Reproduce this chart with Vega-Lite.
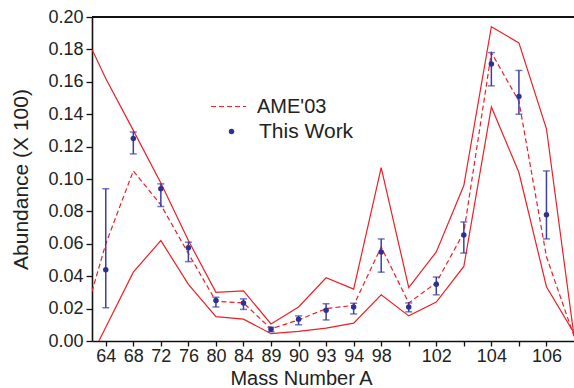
{
  "$schema": "https://vega.github.io/schema/vega-lite/v6.json",
  "width": 482,
  "height": 324,
  "autosize": "none",
  "padding": {"left": 92, "top": 17, "right": 0, "bottom": 47},
  "background": "white",
  "config": {
    "view": {"stroke": null},
    "font": "Liberation Sans",
    "axis": {"labelOverlap": false, "labelBound": false, "labelFlush": false, "grid": false},
    "axisY": {
      "values": [0,0.01,0.02,0.03,0.04,0.05,0.06,0.07,0.08,0.09,0.1,0.11,0.12,0.13,0.14,0.15,0.16,0.17,0.18,0.19,0.2],
      "labelExpr": "round(datum.value*100) % 2 == 0 ? format(datum.value, '.2f') : ''",
      "tickSize": {"condition": {"test": "round(datum.value*100) % 2 == 0", "value": 6}, "value": 3}
    }
  },
  "data": {
    "values": [
      {"i": -0.5, "up": 0.18, "lo": -0.0085, "ame": 0.0305},
      {"i": 0, "up": 0.162, "lo": 0.0085, "ame": 0.060, "v": 0.044, "vlo": 0.0205, "vhi": 0.094},
      {"i": 1, "up": 0.130, "lo": 0.0425, "ame": 0.105, "v": 0.125, "vlo": 0.1155, "vhi": 0.129},
      {"i": 2, "up": 0.0975, "lo": 0.062, "ame": 0.084, "v": 0.094, "vlo": 0.083, "vhi": 0.097},
      {"i": 3, "up": 0.062, "lo": 0.035, "ame": 0.054, "v": 0.0575, "vlo": 0.049, "vhi": 0.061},
      {"i": 4, "up": 0.030, "lo": 0.015, "ame": 0.0245, "v": 0.025, "vlo": 0.021, "vhi": 0.027},
      {"i": 5, "up": 0.031, "lo": 0.0135, "ame": 0.0235, "v": 0.0235, "vlo": 0.0195, "vhi": 0.026},
      {"i": 6, "up": 0.0105, "lo": 0.0045, "ame": 0.0075, "v": 0.0072, "vlo": 0.0057, "vhi": 0.0085},
      {"i": 7, "up": 0.021, "lo": 0.006, "ame": 0.013, "v": 0.0135, "vlo": 0.010, "vhi": 0.0155},
      {"i": 8, "up": 0.039, "lo": 0.008, "ame": 0.020, "v": 0.019, "vlo": 0.013, "vhi": 0.023},
      {"i": 9, "up": 0.032, "lo": 0.011, "ame": 0.022, "v": 0.021, "vlo": 0.0167, "vhi": 0.0233},
      {"i": 10, "up": 0.107, "lo": 0.0285, "ame": 0.058, "v": 0.055, "vlo": 0.0425, "vhi": 0.063},
      {"i": 11, "up": 0.033, "lo": 0.0155, "ame": 0.0235, "v": 0.021, "vlo": 0.018, "vhi": 0.0235},
      {"i": 12, "up": 0.055, "lo": 0.024, "ame": 0.036, "v": 0.035, "vlo": 0.0285, "vhi": 0.0395},
      {"i": 13, "up": 0.096, "lo": 0.046, "ame": 0.067, "v": 0.0655, "vlo": 0.0543, "vhi": 0.0735},
      {"i": 14, "up": 0.194, "lo": 0.1445, "ame": 0.178, "v": 0.171, "vlo": 0.1575, "vhi": 0.178},
      {"i": 15, "up": 0.184, "lo": 0.104, "ame": 0.148, "v": 0.151, "vlo": 0.140, "vhi": 0.167},
      {"i": 16, "up": 0.131, "lo": 0.0335, "ame": 0.052, "v": 0.078, "vlo": 0.063, "vhi": 0.105},
      {"i": 17, "up": 0.003, "lo": 0.005, "ame": 0.003}
    ]
  },
  "encoding": {
    "x": {
      "field": "i",
      "type": "quantitative",
      "scale": {"domain": [-0.5, 17], "nice": false, "zero": false},
      "axis": {
        "title": "Mass Number A",
        "titleFontSize": 20,
        "titleFontWeight": "normal",
        "titleColor": "#222",
        "titleX": 209,
        "titleY": 43,
        "titleAlign": "center",
        "titleBaseline": "alphabetic",
        "values": [0,1,2,3,4,5,6,7,8,9,10,11,12,13,14,15,16],
        "labelExpr": "['64','68','72','76','80','84','89','90','93','94','98','','102','','104','','106'][datum.value]",
        "labelFontSize": 18,
        "labelColor": "#222",
        "labelPadding": 1,
        "tickSize": 5,
        "tickColor": "#111",
        "tickWidth": 1.3,
        "domainColor": "#111",
        "domainWidth": 1.6
      }
    }
  },
  "layer": [
    {
      "mark": {"type": "line", "color": "#ee1f26", "strokeWidth": 1.2, "clip": true},
      "encoding": {
        "y": {
          "field": "up",
          "type": "quantitative",
          "scale": {"domain": [0, 0.2], "nice": false},
          "axis": {
            "title": "Abundance (X 100)",
            "titleFontSize": 21,
            "titleFontWeight": "normal",
            "titleColor": "#222",
            "titlePadding": 16,
            "labelFontSize": 18,
            "labelColor": "#222",
            "labelPadding": 3,
            "tickColor": "#111",
            "tickWidth": 1.3,
            "domainColor": "#111",
            "domainWidth": 1.6
          }
        }
      }
    },
    {
      "mark": {"type": "line", "color": "#ee1f26", "strokeWidth": 1.2, "clip": true},
      "encoding": {"y": {"field": "lo", "type": "quantitative"}}
    },
    {
      "mark": {"type": "line", "color": "#ee1f26", "strokeWidth": 1.2, "clip": true},
      "encoding": {
        "y": {"field": "ame", "type": "quantitative"},
        "strokeDash": {
          "datum": "AME'03",
          "scale": {"range": [[5, 3]]},
          "legend": {
            "title": null,
            "orient": "none",
            "legendX": 118,
            "legendY": 71,
            "padding": 0,
            "symbolType": "stroke",
            "symbolSize": 1225,
            "symbolStrokeColor": "#ee1f26",
            "symbolStrokeWidth": 1.2,
            "labelFontSize": 20,
            "labelColor": "#222",
            "labelOffset": 10,
            "encode": {"symbols": {"update": {"stroke": {"value": "#ee1f26"}}}}
          }
        }
      }
    },
    {
      "mark": {"type": "rule", "color": "#111", "strokeWidth": 2},
      "encoding": {"y": {"datum": 0.2}, "x": {"datum": -0.5}, "x2": {"datum": 17}}
    },
    {
      "transform": [{"filter": "isValid(datum.v)"}],
      "mark": {"type": "rule", "color": "#3b3fa5", "strokeWidth": 1.5},
      "encoding": {"y": {"field": "vlo", "type": "quantitative"}, "y2": {"field": "vhi"}}
    },
    {
      "transform": [{"filter": "isValid(datum.v)"}],
      "mark": {"type": "tick", "orient": "horizontal", "color": "#3b3fa5", "size": 7, "thickness": 1.5},
      "encoding": {"y": {"field": "vlo", "type": "quantitative"}}
    },
    {
      "transform": [{"filter": "isValid(datum.v)"}],
      "mark": {"type": "tick", "orient": "horizontal", "color": "#3b3fa5", "size": 7, "thickness": 1.5},
      "encoding": {"y": {"field": "vhi", "type": "quantitative"}}
    },
    {
      "transform": [{"filter": "isValid(datum.v)"}],
      "mark": {"type": "point", "filled": true, "size": 30, "opacity": 1},
      "encoding": {
        "y": {"field": "v", "type": "quantitative"},
        "color": {
          "datum": "This Work",
          "scale": {"range": ["#2e3192"]},
          "legend": {
            "title": null,
            "orient": "none",
            "legendX": 129,
            "legendY": 104,
            "padding": 0,
            "symbolType": "circle",
            "symbolSize": 30,
            "symbolOpacity": 1,
            "labelFontSize": 21,
            "labelColor": "#222",
            "labelOffset": 17
          }
        }
      }
    }
  ]
}
